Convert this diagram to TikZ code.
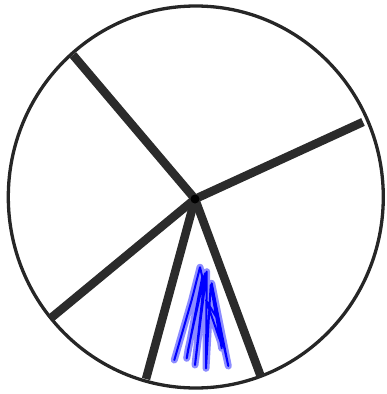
\documentclass[tikz,border=0pt]{standalone}
\begin{document}
\begin{tikzpicture}[x=1pt,y=-1pt,
  rim/.style={draw=black!85, line width=3.3pt},
  spoke/.style={draw=black!83, line width=8.5pt},
  halo/.style={draw=blue, opacity=0.45, line width=7pt, line cap=round, line join=round},
  ink/.style={draw=blue, line width=2pt, line cap=round, line join=round}]
\useasboundingbox (0,0) rectangle (386,394);
\coordinate (c) at (195,199);
\coordinate (ul) at (73,55);
\coordinate (r) at (363,122);
\coordinate (l) at (51,318);
\coordinate (bl) at (146,379);
\coordinate (br) at (261,377);
\draw[rim] (195.8,197) ellipse [x radius=187.5, y radius=191];
\foreach \p in {ul,r,l,bl,br} \draw[spoke] (c) -- (\p);
\fill[black] (c) circle (4.5);
\def\scribble{(174.3,360) -- (191.7,300) -- (200,267.3) -- (202.3,276.7) -- (186.7,358.3) -- (188,350) -- (205,273.3) -- (195,365) -- (206.7,271.7) -- (206,368.3) -- (210.7,285) -- (221.7,348.3) -- (211.7,283.3) -- (228.3,366) -- (218,320) -- (206,300) -- (222,346)}
\draw[halo] \scribble;
\draw[ink] \scribble;
\end{tikzpicture}
\end{document}
